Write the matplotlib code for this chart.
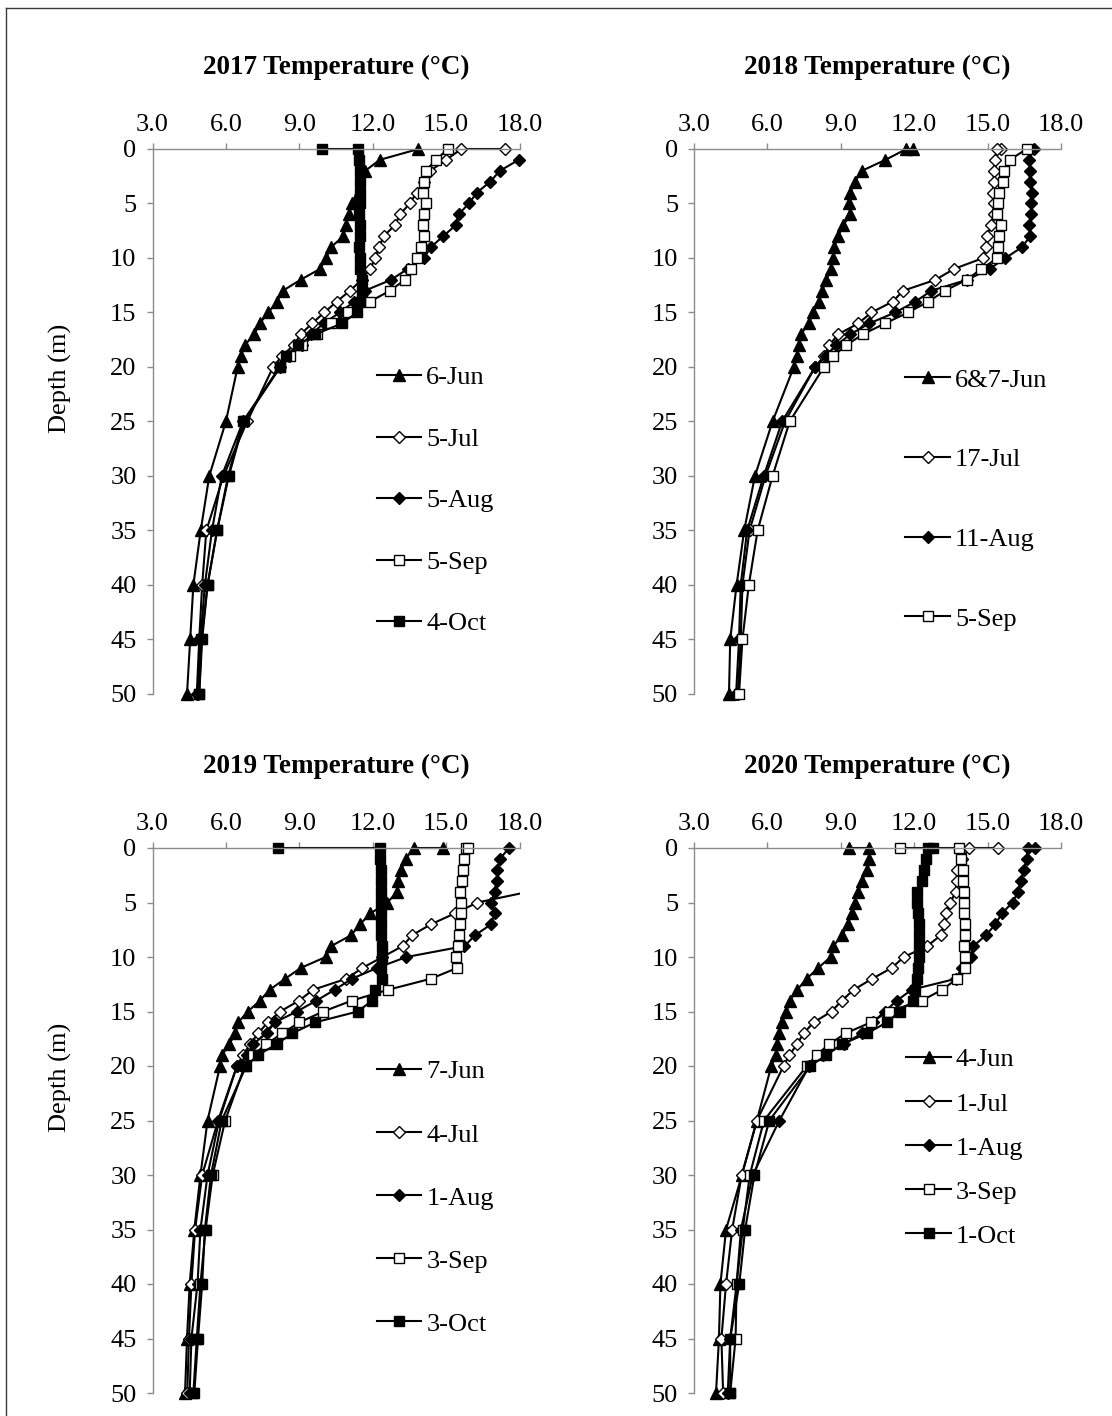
import matplotlib
matplotlib.use("Agg")
import matplotlib.pyplot as plt
from matplotlib.patches import Rectangle
from matplotlib.lines import Line2D

plt.rcParams['font.family'] = ['Liberation Serif', 'DejaVu Serif']

# ---------------- data ----------------
DEPTH_STD = [0, 1, 2, 3, 4, 5, 6, 7, 8, 9, 10, 11, 12, 13, 14, 15, 16, 17, 18, 19, 20, 25, 30, 35, 40, 45, 50]
DEPTH_SURF2 = [0, 0, 1, 2, 3, 4, 5, 6, 7, 8, 9, 10, 11, 12, 13, 14, 15, 16, 17, 18, 19, 20, 25, 30, 35, 40, 45, 50]
DEPTH_FROM1 = [1, 2, 3, 4, 5, 6, 7, 8, 9, 10, 11, 12, 13, 14, 15, 16, 17, 18, 19, 20, 25, 30, 35, 40, 45, 50]
DEPTH_NO34 = [0, 1, 2, 5, 6, 7, 8, 9, 10, 11, 12, 13, 14, 15, 16, 17, 18, 19, 20, 25, 30, 35, 40, 45, 50]
DEPTH_FROM4 = [4, 5, 6, 7, 8, 9, 10, 11, 12, 13, 14, 15, 16, 17, 18, 19, 20, 25, 30, 35, 40, 45, 50]

# 2017
T2017_JUN = [13.87, 12.28, 11.70, 11.16, 11.04, 10.90, 10.80, 10.30, 10.10, 9.85, 9.05, 8.33, 8.08,
             7.74, 7.38, 7.16, 6.77, 6.62, 6.48, 6.00, 5.32, 4.97, 4.67, 4.54, 4.41]
T2017_JUL = [17.40, 15.62, 15.00, 14.35, 14.10, 13.80, 13.51, 13.12, 12.90, 12.45, 12.26, 12.10, 11.90,
             11.55, 11.07, 10.53, 10.02, 9.52, 9.06, 8.77, 8.29, 7.93, 6.87, 5.90, 5.20, 5.03, 4.91, 4.81]
T2017_AUG = [17.96, 17.20, 16.80, 16.26, 15.93, 15.51, 15.39, 14.88, 14.38, 14.09, 13.43, 12.75, 11.68,
             11.25, 10.66, 9.99, 9.49, 9.09, 8.58, 8.22, 6.70, 5.83, 5.43, 5.14, 4.96, 4.86]
T2017_SEP = [15.07, 14.59, 14.16, 14.09, 14.06, 14.16, 14.09, 14.06, 14.09, 13.99, 13.80, 13.58, 13.32,
             12.71, 11.88, 10.98, 10.29, 9.71, 9.10, 8.60, 8.22, 6.74, 6.12, 5.64, 5.25, 5.03, 4.91]
T2017_OCT = [9.91, 11.41, 11.45, 11.47, 11.50, 11.50, 11.47, 11.45, 11.50, 11.50, 11.45, 11.47, 11.50,
             11.55, 11.55, 11.50, 11.35, 10.75, 9.65, 8.95, 8.45, 8.20, 6.70, 6.09, 5.64, 5.25, 5.00, 4.91]

# 2018
T2018_JUN = [11.95, 11.68, 10.82, 9.86, 9.57, 9.39, 9.32, 9.39, 9.10, 8.89, 8.74, 8.70, 8.60, 8.41,
             8.24, 8.09, 7.87, 7.69, 7.37, 7.30, 7.20, 7.08, 6.21, 5.49, 5.05, 4.74, 4.48, 4.43]
T2018_JUL = [15.54, 15.37, 15.30, 15.25, 15.25, 15.22, 15.25, 15.25, 15.15, 14.96, 14.93, 14.82, 13.63,
             12.87, 11.55, 11.12, 10.25, 9.72, 8.89, 8.53, 8.31, 7.95, 6.72, 5.92, 5.27, 4.98, 4.91, 4.79]
T2018_AUG = [16.88, 16.70, 16.72, 16.72, 16.80, 16.78, 16.78, 16.70, 16.74, 16.41, 15.73, 15.08, 14.16,
             12.70, 12.05, 11.22, 10.17, 9.39, 8.82, 8.38, 7.95, 6.60, 5.85, 5.17, 4.91, 4.84, 4.72]
T2018_SEP = [16.60, 15.90, 15.69, 15.61, 15.47, 15.44, 15.40, 15.54, 15.47, 15.44, 15.40, 14.75, 14.14,
             13.26, 12.58, 11.75, 10.81, 9.90, 9.22, 8.70, 8.31, 6.91, 6.21, 5.60, 5.24, 4.98, 4.84]

# 2019
T2019_JUN = [14.87, 13.67, 13.35, 13.17, 13.05, 13.01, 12.60, 11.91, 11.48, 11.12, 10.30, 10.08, 9.06,
             8.42, 7.79, 7.39, 6.90, 6.50, 6.39, 6.14, 5.84, 5.76, 5.25, 4.96, 4.71, 4.52, 4.41, 4.33]
T2019_JUL = [18.40, 16.28, 15.36, 14.38, 13.61, 13.22, 12.40, 11.58, 10.92, 9.57, 8.99, 8.22, 7.71,
             7.32, 6.99, 6.70, 6.45, 5.68, 5.03, 4.74, 4.59, 4.49, 4.42]
T2019_AUG = [17.57, 17.20, 17.10, 17.06, 16.99, 16.84, 16.99, 16.84, 16.19, 15.75, 13.38, 12.18, 11.15,
             10.45, 9.70, 8.90, 8.00, 7.66, 7.11, 6.88, 6.45, 5.72, 5.25, 4.96, 4.84, 4.59, 4.52]
T2019_SEP = [15.80, 15.88, 15.75, 15.68, 15.65, 15.58, 15.61, 15.61, 15.57, 15.51, 15.49, 15.42, 15.46,
             14.37, 12.64, 11.15, 9.98, 9.00, 8.31, 7.65, 7.10, 6.77, 5.97, 5.46, 5.17, 4.96, 4.81, 4.67]
T2019_OCT = [8.12, 12.28, 12.28, 12.32, 12.32, 12.32, 12.32, 12.35, 12.35, 12.35, 12.39, 12.39, 12.35,
             12.39, 12.10, 11.98, 11.39, 9.64, 8.72, 8.07, 7.31, 6.83, 5.83, 5.39, 5.14, 5.03, 4.86, 4.71]

# 2020
T2020_JUN = [9.33, 10.15, 10.15, 10.08, 9.86, 9.72, 9.57, 9.45, 9.28, 9.06, 8.69, 8.58, 8.08, 7.60,
             7.22, 6.92, 6.78, 6.58, 6.49, 6.41, 6.35, 6.16, 5.57, 4.96, 4.31, 4.08, 4.02, 3.90]
T2020_JUL = [15.42, 14.26, 13.95, 13.76, 13.74, 13.70, 13.48, 13.28, 13.21, 13.09, 12.53, 11.58, 11.08,
             10.28, 9.53, 9.04, 8.62, 7.89, 7.48, 7.21, 6.90, 6.66, 5.57, 4.95, 4.56, 4.31, 4.12, 4.19]
T2020_AUG = [16.95, 16.66, 16.59, 16.49, 16.35, 16.25, 16.02, 15.58, 15.32, 14.93, 14.42, 14.31, 13.95,
             13.70, 11.90, 11.29, 10.80, 10.30, 9.86, 9.13, 8.26, 7.71, 6.49, 5.40, 4.92, 4.74, 4.48, 4.38]
T2020_SEP = [11.43, 13.85, 13.93, 14.00, 14.00, 14.02, 14.02, 14.04, 14.06, 14.06, 14.04, 14.06, 14.06,
             13.74, 13.15, 12.30, 10.96, 10.22, 9.20, 8.52, 8.01, 7.61, 5.86, 5.28, 4.99, 4.74, 4.70, 4.48]
T2020_OCT = [12.77, 12.55, 12.48, 12.40, 12.30, 12.10, 12.10, 12.15, 12.18, 12.20, 12.20, 12.18, 12.15,
             12.10, 12.05, 11.96, 11.40, 10.88, 10.08, 9.06, 8.41, 7.75, 6.08, 5.47, 5.09, 4.85, 4.48, 4.48]

LABELS_2017 = ['6-Jun', '5-Jul', '5-Aug', '5-Sep', '4-Oct']
LABELS_2018 = ['6&7-Jun', '17-Jul', '11-Aug', '5-Sep']
LABELS_2019 = ['7-Jun', '4-Jul', '1-Aug', '3-Sep', '3-Oct']
LABELS_2020 = ['4-Jun', '1-Jul', '1-Aug', '3-Sep', '1-Oct']

X_TICKS = [3.0, 6.0, 9.0, 12.0, 15.0, 18.0]
Y_TICKS = [0, 5, 10, 15, 20, 25, 30, 35, 40, 45, 50]

# ---------------- styles ----------------
MARK = {'Jun': ('^', 'black', 8.0), 'Jul': ('D', 'white', 5.8), 'Aug': ('D', 'black', 5.8),
        'Sep': ('s', 'white', 7.0), 'Oct': ('s', 'black', 7.0)}

FS_TICK = 19
FS_TITLE = 19.5
AXIS_GRAY = '#8c8c8c'

W, H = 1112, 1416
fig = plt.figure(figsize=(W / 100, H / 100), dpi=100)

PW, PH = 367, 545


def make_axes(left_px, top_px):
    return fig.add_axes([left_px / W, 1 - (top_px + PH) / H, PW / W, PH / H])


panels = [
    dict(title='2017 Temperature (°C)', left=152.5, top=149, ylabel=True,
         series=[('Jun', DEPTH_NO34, T2017_JUN), ('Jul', DEPTH_SURF2, T2017_JUL),
                 ('Aug', DEPTH_FROM1, T2017_AUG), ('Sep', DEPTH_STD, T2017_SEP),
                 ('Oct', DEPTH_SURF2, T2017_OCT)],
         labels=LABELS_2017, leg_x=12.16, leg_y=19.9, leg_sp=1.44),
    dict(title='2018 Temperature (°C)', left=694, top=149, ylabel=False,
         series=[('Jun', DEPTH_SURF2, T2018_JUN), ('Jul', DEPTH_SURF2, T2018_JUL),
                 ('Aug', DEPTH_STD, T2018_AUG), ('Sep', DEPTH_STD, T2018_SEP)],
         labels=LABELS_2018, leg_x=11.64, leg_y=20.1, leg_sp=2.13),
    dict(title='2019 Temperature (°C)', left=152.5, top=848, ylabel=True,
         series=[('Jun', DEPTH_SURF2, T2019_JUN), ('Jul', DEPTH_FROM4, T2019_JUL),
                 ('Aug', DEPTH_STD, T2019_AUG), ('Sep', DEPTH_SURF2, T2019_SEP),
                 ('Oct', DEPTH_SURF2, T2019_OCT)],
         labels=LABELS_2019, leg_x=12.16, leg_y=19.45, leg_sp=1.5),
    dict(title='2020 Temperature (°C)', left=694, top=848, ylabel=False,
         series=[('Jun', DEPTH_SURF2, T2020_JUN), ('Jul', DEPTH_SURF2, T2020_JUL),
                 ('Aug', DEPTH_SURF2, T2020_AUG), ('Sep', DEPTH_SURF2, T2020_SEP),
                 ('Oct', DEPTH_SURF2, T2020_OCT)],
         labels=LABELS_2020, leg_x=11.68, leg_y=18.35, leg_sp=0.78),
]

for p in panels:
    ax = make_axes(p['left'], p['top'])
    ax.set_xlim(3, 18)
    ax.set_ylim(50, 0)
    ax.set_xticks(X_TICKS)
    ax.set_xticklabels([f'{v:.1f}' for v in X_TICKS])
    ax.set_yticks(Y_TICKS)
    ax.xaxis.set_ticks_position('top')
    ax.xaxis.set_label_position('top')
    for s in ('bottom', 'right'):
        ax.spines[s].set_visible(False)
    for s in ('top', 'left'):
        ax.spines[s].set_color(AXIS_GRAY)
        ax.spines[s].set_linewidth(1.0)
    ax.tick_params(axis='x', direction='out', length=4.5, width=1.0, color=AXIS_GRAY,
                   labelsize=FS_TICK, pad=5)
    ax.tick_params(axis='y', direction='out', length=4.5, width=1.0, color=AXIS_GRAY,
                   labelsize=FS_TICK, pad=7)
    ax.set_facecolor('none')

    handles = []
    clip_rect = Rectangle((0, -0.05), 1.0, 1.1, transform=ax.transAxes,
                          facecolor='none', edgecolor='none')
    for key, depths, temps in p['series']:
        m, fc, ms = MARK[key]
        ln, = ax.plot(temps, depths, color='black', lw=1.5, marker=m, markersize=ms,
                      markerfacecolor=fc, markeredgecolor='black', markeredgewidth=1.0,
                      clip_on=False)
        if max(temps) > 18:
            ln.set_clip_on(True)
            ln.set_clip_path(clip_rect)
        handles.append(ln)

    ax.legend(handles, p['labels'], loc='upper left', bbox_to_anchor=(p['leg_x'], p['leg_y']),
              bbox_transform=ax.transData, frameon=False, fontsize=FS_TICK,
              handlelength=1.7, handletextpad=0.18, labelspacing=p['leg_sp'],
              borderpad=0, borderaxespad=0, numpoints=1)

    ax.text(0.5, 1 + 82 / PH, p['title'], transform=ax.transAxes, ha='center', va='center',
            fontsize=FS_TITLE, fontweight='bold')
    if p['ylabel']:
        ax.set_ylabel('Depth (m)', fontsize=FS_TICK)
        ax.yaxis.set_label_coords(-0.219, 0.58)

# outer frame (left and top edges)
fig.add_artist(Line2D([6 / W, 6 / W], [0, 1 - 8 / H], transform=fig.transFigure,
                      color='#3a3a3a', lw=1.0))
fig.add_artist(Line2D([6 / W, 1], [1 - 8 / H, 1 - 8 / H], transform=fig.transFigure,
                      color='#3a3a3a', lw=1.0))

fig.savefig('out.png', dpi=100, facecolor='white')
